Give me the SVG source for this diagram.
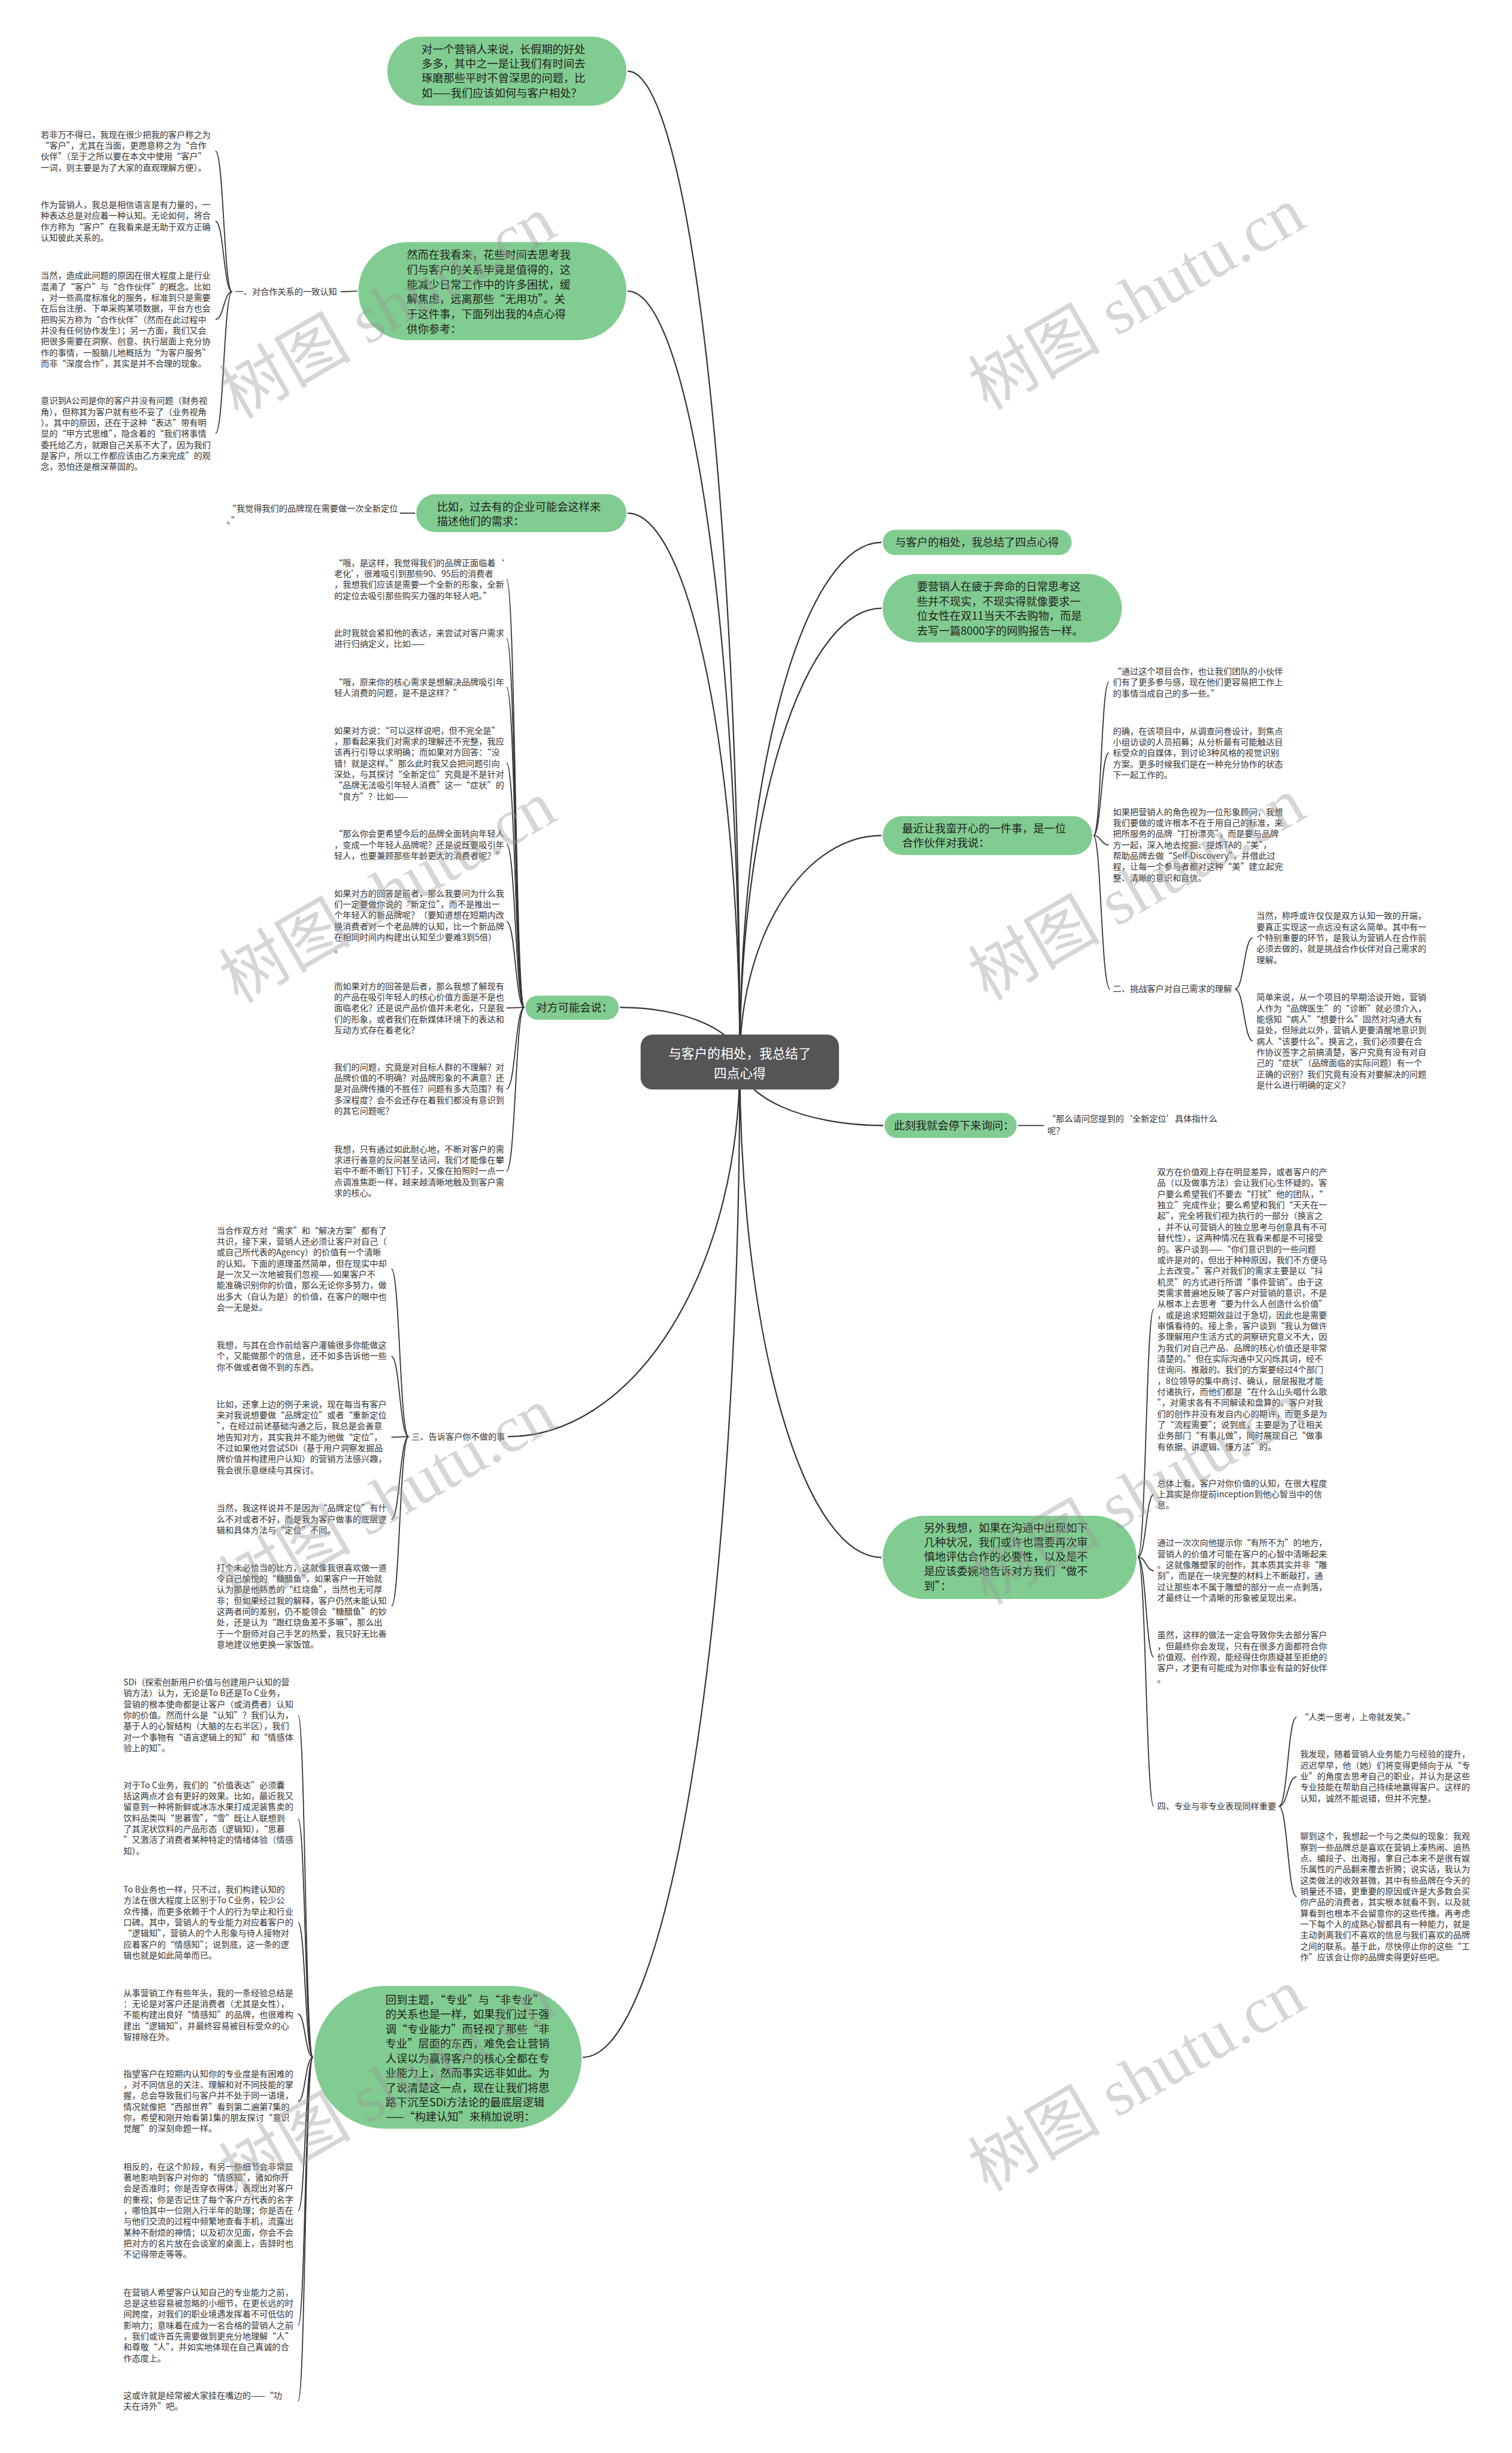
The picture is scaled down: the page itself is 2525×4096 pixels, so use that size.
<svg xmlns="http://www.w3.org/2000/svg" width="2525" height="4096" viewBox="0 0 2525 4096">
<style>
text{font-family:"Noto Sans CJK SC","Liberation Sans",sans-serif;}
.t{font-size:14.4px;fill:#333;}
.n{font-size:18.5px;fill:#222;}
.c{font-size:22px;fill:#fff;}
.pill{fill:#81cc90;}
.ln{fill:none;stroke:#333;stroke-width:2.2;}
.sl{fill:none;stroke:#333;stroke-width:1.8;}
.wm{font-family:"Liberation Serif","Noto Sans CJK SC",serif;font-size:112px;fill:#999;fill-opacity:0.4;}
</style>
<rect width="2525" height="4096" fill="#fff"/>
<g transform="scale(0.986)">
<g id="connectors">
<path class="ln" d="M1253,1798 A190,1677.5 0 0 0 1063,120.5"/>
<path class="ln" d="M1253,1798 A190,1305 0 0 0 1063,493"/>
<path class="ln" d="M1253,1798 A190,929 0 0 0 1063,869"/>
<path class="ln" d="M1253,1798 A203,92 0 0 0 1050,1706"/>
<path class="ln" d="M1253,1798 A393,635 0 0 1 860,2433"/>
<path class="ln" d="M1253,1798 A266,1686 0 0 1 987,3484"/>
<path class="ln" d="M1253,1798 A240,879.5 0 0 1 1493,918.5"/>
<path class="ln" d="M1253,1798 A240,768 0 0 1 1493,1030"/>
<path class="ln" d="M1253,1798 A240,383 0 0 1 1493,1415"/>
<path class="ln" d="M1253,1798 A243,108 0 0 0 1496,1906"/>
<path class="ln" d="M1253,1798 A240,839.5 0 0 0 1493,2637.5"/>
<!-- L2 to label -->
<path class="sl" d="M605,493 L577,494"/>
<!-- 一 bracket -->
<path class="sl" d="M393,494 C379,494 379,256 365,256"/>
<path class="sl" d="M393,494 C379,494 379,375 365,375"/>
<path class="sl" d="M393,494 C379,494 379,541 365,541"/>
<path class="sl" d="M393,494 C379,494 379,734 365,734"/>
<!-- L3 child -->
<path class="sl" d="M703,869 L677,869"/>
<!-- L4 bracket -->
<path class="sl" d="M888,1706 C873,1706 873,981 858,981"/>
<path class="sl" d="M888,1706 C873,1706 873,1081 858,1081"/>
<path class="sl" d="M888,1706 C873,1706 873,1164 858,1164"/>
<path class="sl" d="M888,1706 C873,1706 873,1292 858,1292"/>
<path class="sl" d="M888,1706 C873,1706 873,1430 858,1430"/>
<path class="sl" d="M888,1706 C873,1706 873,1561 858,1561"/>
<path class="sl" d="M888,1706 C873,1706 873,1707 858,1707"/>
<path class="sl" d="M888,1706 C873,1706 873,1844 858,1844"/>
<path class="sl" d="M888,1706 C873,1706 873,1983 858,1983"/>
<!-- L5 bracket -->
<path class="sl" d="M692,2433 C677,2433 677,2149 663,2149"/>
<path class="sl" d="M692,2433 C677,2433 677,2297 663,2297"/>
<path class="sl" d="M692,2433 C677,2433 677,2434 663,2434"/>
<path class="sl" d="M692,2433 C677,2433 677,2573 663,2573"/>
<path class="sl" d="M692,2433 C677,2433 677,2720 663,2720"/>
<!-- L6 bracket -->
<path class="sl" d="M530,3484 C517,3484 517,2905 505,2905"/>
<path class="sl" d="M530,3484 C517,3484 517,3080 505,3080"/>
<path class="sl" d="M530,3484 C517,3484 517,3256 505,3256"/>
<path class="sl" d="M530,3484 C517,3484 517,3411 505,3411"/>
<path class="sl" d="M530,3484 C517,3484 517,3559 505,3559"/>
<path class="sl" d="M530,3484 C517,3484 517,3744 505,3744"/>
<path class="sl" d="M530,3484 C517,3484 517,3938 505,3938"/>
<path class="sl" d="M530,3484 C517,3484 517,4066 505,4066"/>
<!-- R3 bracket -->
<path class="sl" d="M1852,1415 C1865,1415 1865,1155 1878,1155"/>
<path class="sl" d="M1852,1415 C1865,1415 1865,1275 1878,1275"/>
<path class="sl" d="M1852,1415 C1865,1415 1865,1431 1878,1431"/>
<path class="sl" d="M1852,1415 C1865,1415 1865,1675 1880,1675"/>
<!-- 二 bracket -->
<path class="sl" d="M2092,1675 C2107,1675 2107,1588 2122,1588"/>
<path class="sl" d="M2092,1675 C2107,1675 2107,1763 2122,1763"/>
<!-- R4 child -->
<path class="sl" d="M1724,1906 L1768,1906"/>
<!-- R5 bracket -->
<path class="sl" d="M1927,2637 C1941,2637 1941,2217 1954,2217"/>
<path class="sl" d="M1927,2637 C1941,2637 1941,2531 1954,2531"/>
<path class="sl" d="M1927,2637 C1941,2637 1941,2660 1954,2660"/>
<path class="sl" d="M1927,2637 C1941,2637 1941,2806 1954,2806"/>
<path class="sl" d="M1927,2637 C1941,2637 1941,3059 1954,3059"/>
<!-- 四 bracket -->
<path class="sl" d="M2166,3059 C2181,3059 2181,2908 2196,2908"/>
<path class="sl" d="M2166,3059 C2181,3059 2181,3009 2196,3009"/>
<path class="sl" d="M2166,3059 C2181,3059 2181,3212 2196,3212"/>
</g>

<g id="center">
<rect x="1085" y="1752" width="336" height="93" rx="20" fill="#555"/>
<text class="c" text-anchor="middle"><tspan x="1253" y="1792">与客户的相处，我总结了</tspan><tspan x="1253" y="1826">四点心得</tspan></text>
</g>

<g id="L1">
<rect class="pill" x="656" y="62" width="405" height="117" rx="58.5"/>
<text class="n" y="90.6"><tspan x="714">对一个营销人来说，长假期的好处</tspan><tspan x="714" dy="24.4">多多，其中之一是让我们有时间去</tspan><tspan x="714" dy="24.4">琢磨那些平时不曾深思的问题，比</tspan><tspan x="714" dy="24.4">如——我们应该如何与客户相处？</tspan></text>
</g>

<g id="L2">
<rect class="pill" x="607" y="410" width="454" height="166" rx="83"/>
<text class="n" y="438.6"><tspan x="689">然而在我看来，花些时间去思考我</tspan><tspan x="689" dy="25">们与客户的关系毕竟是值得的，这</tspan><tspan x="689" dy="25">能减少日常工作中的许多困扰，缓</tspan><tspan x="689" dy="25">解焦虑，远离那些“无用功”。关</tspan><tspan x="689" dy="25">于这件事，下面列出我的4点心得</tspan><tspan x="689" dy="25">供你参考：</tspan></text>
</g>

<g id="L2-label">
<text class="t" x="398" y="499">一、对合作关系的一致认知</text>
</g>

<g id="L2-b1">
<text class="t" y="233"><tspan x="69">若非万不得已，我现在很少把我的客户称之为</tspan><tspan x="69" dy="18.6">“客户”，尤其在当面，更愿意称之为“合作</tspan><tspan x="69" dy="18.6">伙伴”（至于之所以要在本文中使用“客户”</tspan><tspan x="69" dy="18.6">一词，则主要是为了大家的直观理解方便）。</tspan></text>
</g>
<g id="L2-b2">
<text class="t" y="352"><tspan x="69">作为营销人，我总是相信语言是有力量的，一</tspan><tspan x="69" dy="18.6">种表达总是对应着一种认知。无论如何，将合</tspan><tspan x="69" dy="18.6">作方称为“客户”在我看来是无助于双方正确</tspan><tspan x="69" dy="18.6">认知彼此关系的。</tspan></text>
</g>
<g id="L2-b3">
<text class="t" y="472"><tspan x="69">当然，造成此问题的原因在很大程度上是行业</tspan><tspan x="69" dy="18.6">混淆了“客户”与“合作伙伴”的概念。比如</tspan><tspan x="69" dy="18.6">，对一些高度标准化的服务，标准到只是需要</tspan><tspan x="69" dy="18.6">在后台注册、下单采购某项数据，平台方也会</tspan><tspan x="69" dy="18.6">把购买方称为“合作伙伴”（然而在此过程中</tspan><tspan x="69" dy="18.6">并没有任何协作发生）；另一方面，我们又会</tspan><tspan x="69" dy="18.6">把很多需要在洞察、创意、执行层面上充分协</tspan><tspan x="69" dy="18.6">作的事情，一股脑儿地概括为“为客户服务”</tspan><tspan x="69" dy="18.6">而非“深度合作”，其实是并不合理的现象。</tspan></text>
</g>
<g id="L2-b4">
<text class="t" y="684"><tspan x="69">意识到A公司是你的客户并没有问题（财务视</tspan><tspan x="69" dy="18.6">角），但称其为客户就有些不妥了（业务视角</tspan><tspan x="69" dy="18.6">）。其中的原因，还在于这种“表达”带有明</tspan><tspan x="69" dy="18.6">显的“甲方式思维”，隐含着的“我们将事情</tspan><tspan x="69" dy="18.6">委托给乙方，就跟自己关系不大了，因为我们</tspan><tspan x="69" dy="18.6">是客户，所以工作都应该由乙方来完成”的观</tspan><tspan x="69" dy="18.6">念，恐怕还是根深蒂固的。</tspan></text>
</g>

<g id="L3">
<rect class="pill" x="705" y="837" width="356" height="64" rx="32"/>
<text class="n" y="865.6"><tspan x="740">比如，过去有的企业可能会这样来</tspan><tspan x="740" dy="24">描述他们的需求：</tspan></text>
</g>
<g id="L3-c">
<text class="t" y="866"><tspan x="386">“我觉得我们的品牌现在需要做一次全新定位</tspan><tspan x="384" dy="20">。”</tspan></text>
</g>

<g id="L4">
<rect class="pill" x="890" y="1686" width="158" height="41" rx="20.5"/>
<text class="n" x="908" y="1712.6">对方可能会说：</text>
</g>
<g id="L4-b1"><text class="t" y="958"><tspan x="566">“哦，是这样，我觉得我们的品牌正面临着‘</tspan><tspan x="566" dy="18.6">老化’，很难吸引到那些90、95后的消费者</tspan><tspan x="566" dy="18.6">，我想我们应该是需要一个全新的形象，全新</tspan><tspan x="566" dy="18.6">的定位去吸引那些购买力强的年轻人吧。”</tspan></text></g>
<g id="L4-b2"><text class="t" y="1077"><tspan x="566">此时我就会紧扣他的表达，来尝试对客户需求</tspan><tspan x="566" dy="18.6">进行归纳定义，比如——</tspan></text></g>
<g id="L4-b3"><text class="t" y="1160"><tspan x="566">“哦，原来你的核心需求是想解决品牌吸引年</tspan><tspan x="566" dy="18.6">轻人消费的问题，是不是这样？”</tspan></text></g>
<g id="L4-b4"><text class="t" y="1242"><tspan x="566">如果对方说：“可以这样说吧，但不完全是”</tspan><tspan x="566" dy="18.6">，那看起来我们对需求的理解还不完整，我应</tspan><tspan x="566" dy="18.6">该再行引导以求明确；而如果对方回答：“没</tspan><tspan x="566" dy="18.6">错！就是这样。”那么此时我又会把问题引向</tspan><tspan x="566" dy="18.6">深处，与其探讨“全新定位”究竟是不是针对</tspan><tspan x="566" dy="18.6">“品牌无法吸引年轻人消费”这一“症状”的</tspan><tspan x="566" dy="18.6">“良方”？比如——</tspan></text></g>
<g id="L4-b5"><text class="t" y="1417"><tspan x="566">“那么你会更希望今后的品牌全面转向年轻人</tspan><tspan x="566" dy="18.6">，变成一个年轻人品牌呢？还是说既要吸引年</tspan><tspan x="566" dy="18.6">轻人，也要兼顾那些年龄更大的消费者呢？”</tspan></text></g>
<g id="L4-b6"><text class="t" y="1518"><tspan x="566">如果对方的回答是前者，那么我要问为什么我</tspan><tspan x="566" dy="18.6">们一定要做你说的“新定位”，而不是推出一</tspan><tspan x="566" dy="18.6">个年轻人的新品牌呢？（要知道想在短期内改</tspan><tspan x="566" dy="18.6">换消费者对一个老品牌的认知，比一个新品牌</tspan><tspan x="566" dy="18.6">在相同时间内构建出认知至少要难3到5倍）</tspan><tspan x="566" dy="20">。</tspan></text></g>
<g id="L4-b7"><text class="t" y="1675"><tspan x="566">而如果对方的回答是后者，那么我想了解现有</tspan><tspan x="566" dy="18.6">的产品在吸引年轻人的核心价值方面是不是也</tspan><tspan x="566" dy="18.6">面临老化？还是说产品价值并未老化，只是我</tspan><tspan x="566" dy="18.6">们的形象，或者我们在新媒体环境下的表达和</tspan><tspan x="566" dy="18.6">互动方式存在着老化？</tspan></text></g>
<g id="L4-b8"><text class="t" y="1812"><tspan x="566">我们的问题，究竟是对目标人群的不理解？对</tspan><tspan x="566" dy="18.6">品牌价值的不明确？对品牌形象的不满意？还</tspan><tspan x="566" dy="18.6">是对品牌传播的不胜任？问题有多大范围？有</tspan><tspan x="566" dy="18.6">多深程度？会不会还存在着我们都没有意识到</tspan><tspan x="566" dy="18.6">的其它问题呢？</tspan></text></g>
<g id="L4-b9"><text class="t" y="1951"><tspan x="566">我想，只有通过如此耐心地，不断对客户的需</tspan><tspan x="566" dy="18.6">求进行善意的反问甚至诘问，我们才能像在攀</tspan><tspan x="566" dy="18.6">岩中不断不断钉下钉子，又像在拍照时一点一</tspan><tspan x="566" dy="18.6">点调准焦距一样，越来越清晰地触及到客户需</tspan><tspan x="566" dy="18.6">求的核心。</tspan></text></g>

<g id="L5">
<text class="t" x="697" y="2438">三、告诉客户你不做的事</text>
</g>
<g id="L5-b1"><text class="t" y="2089"><tspan x="367">当合作双方对“需求”和“解决方案”都有了</tspan><tspan x="367" dy="18.6">共识，接下来，营销人还必须让客户对自己（</tspan><tspan x="367" dy="18.6">或自己所代表的Agency）的价值有一个清晰</tspan><tspan x="367" dy="18.6">的认知。下面的道理虽然简单，但在现实中却</tspan><tspan x="367" dy="18.6">是一次又一次地被我们忽视——如果客户不</tspan><tspan x="367" dy="18.6">能准确识别你的价值，那么无论你多努力，做</tspan><tspan x="367" dy="18.6">出多大（自认为是）的价值，在客户的眼中也</tspan><tspan x="367" dy="18.6">会一无是处。</tspan></text></g>
<g id="L5-b2"><text class="t" y="2283"><tspan x="367">我想，与其在合作前给客户灌输很多你能做这</tspan><tspan x="367" dy="18.6">个，又能做那个的信息，还不如多告诉他一些</tspan><tspan x="367" dy="18.6">你不做或者做不到的东西。</tspan></text></g>
<g id="L5-b3"><text class="t" y="2383"><tspan x="367">比如，还拿上边的例子来说，现在每当有客户</tspan><tspan x="367" dy="18.6">来对我说想要做“品牌定位”或者“重新定位</tspan><tspan x="367" dy="18.6">”，在经过前述基础沟通之后，我总是会善意</tspan><tspan x="367" dy="18.6">地告知对方，其实我并不能为他做“定位”，</tspan><tspan x="367" dy="18.6">不过如果他对尝试SDi（基于用户洞察发掘品</tspan><tspan x="367" dy="18.6">牌价值并构建用户认知）的营销方法感兴趣，</tspan><tspan x="367" dy="18.6">我会很乐意继续与其探讨。</tspan></text></g>
<g id="L5-b4"><text class="t" y="2559"><tspan x="367">当然，我这样说并不是因为“品牌定位”有什</tspan><tspan x="367" dy="18.6">么不对或者不好，而是我为客户做事的底层逻</tspan><tspan x="367" dy="18.6">辑和具体方法与“定位”不同。</tspan></text></g>
<g id="L5-b5"><text class="t" y="2660"><tspan x="367">打个未必恰当的比方，这就像我很喜欢做一道</tspan><tspan x="367" dy="18.6">令自己愉悦的“糖醋鱼”，如果客户一开始就</tspan><tspan x="367" dy="18.6">认为那是他熟悉的“红烧鱼”，当然也无可厚</tspan><tspan x="367" dy="18.6">非；但如果经过我的解释，客户仍然未能认知</tspan><tspan x="367" dy="18.6">这两者间的差别，仍不能领会“糖醋鱼”的妙</tspan><tspan x="367" dy="18.6">处，还是认为“跟红烧鱼差不多嘛”，那么出</tspan><tspan x="367" dy="18.6">于一个厨师对自己手艺的热爱，我只好无比善</tspan><tspan x="367" dy="18.6">意地建议他更换一家饭馆。</tspan></text></g>

<g id="L6">
<rect class="pill" x="532" y="3363" width="453" height="242" rx="121"/>
<text class="n" y="3393.6"><tspan x="653">回到主题，“专业”与“非专业”</tspan><tspan x="653" dy="24.75">的关系也是一样，如果我们过于强</tspan><tspan x="653" dy="24.75">调“专业能力”而轻视了那些“非</tspan><tspan x="653" dy="24.75">专业”层面的东西，难免会让营销</tspan><tspan x="653" dy="24.75">人误以为赢得客户的核心全都在专</tspan><tspan x="653" dy="24.75">业能力上，然而事实远非如此。为</tspan><tspan x="653" dy="24.75">了说清楚这一点，现在让我们将思</tspan><tspan x="653" dy="24.75">路下沉至SDi方法论的最底层逻辑</tspan><tspan x="653" dy="24.75">——“构建认知”来稍加说明：</tspan></text>
</g>
<g id="L6-b1"><text class="t" y="2854"><tspan x="209">SDi（探索创新用户价值与创建用户认知的营</tspan><tspan x="209" dy="18.6">销方法）认为，无论是To B还是To C业务，</tspan><tspan x="209" dy="18.6">营销的根本使命都是让客户（或消费者）认知</tspan><tspan x="209" dy="18.6">你的价值。然而什么是“认知”？我们认为，</tspan><tspan x="209" dy="18.6">基于人的心智结构（大脑的左右半区），我们</tspan><tspan x="209" dy="18.6">对一个事物有“语言逻辑上的知”和“情感体</tspan><tspan x="209" dy="18.6">验上的知”。</tspan></text></g>
<g id="L6-b2"><text class="t" y="3028"><tspan x="209">对于To C业务，我们的“价值表达”必须囊</tspan><tspan x="209" dy="18.6">括这两点才会有更好的效果。比如，最近我又</tspan><tspan x="209" dy="18.6">留意到一种将新鲜或冰冻水果打成泥装售卖的</tspan><tspan x="209" dy="18.6">饮料品类叫“思慕雪”，“雪”既让人联想到</tspan><tspan x="209" dy="18.6">了其泥状饮料的产品形态（逻辑知），“思慕</tspan><tspan x="209" dy="18.6">”又激活了消费者某种特定的情绪体验（情感</tspan><tspan x="209" dy="18.6">知）。</tspan></text></g>
<g id="L6-b3"><text class="t" y="3205"><tspan x="209">To B业务也一样，只不过，我们构建认知的</tspan><tspan x="209" dy="18.6">方法在很大程度上区别于To C业务，较少公</tspan><tspan x="209" dy="18.6">众传播，而更多依赖于个人的行为举止和行业</tspan><tspan x="209" dy="18.6">口碑。其中，营销人的专业能力对应着客户的</tspan><tspan x="209" dy="18.6">“逻辑知”，营销人的个人形象与待人接物对</tspan><tspan x="209" dy="18.6">应着客户的“情感知”；说到底，这一条的逻</tspan><tspan x="209" dy="18.6">辑也就是如此简单而已。</tspan></text></g>
<g id="L6-b4"><text class="t" y="3380"><tspan x="209">从事营销工作有些年头，我的一条经验总结是</tspan><tspan x="209" dy="18.6">：无论是对客户还是消费者（尤其是女性），</tspan><tspan x="209" dy="18.6">不能构建出良好“情感知”的品牌，也很难构</tspan><tspan x="209" dy="18.6">建出“逻辑知”，并最终容易被目标受众的心</tspan><tspan x="209" dy="18.6">智排除在外。</tspan></text></g>
<g id="L6-b5"><text class="t" y="3517"><tspan x="209">指望客户在短期内认知你的专业度是有困难的</tspan><tspan x="209" dy="18.6">，对不同信息的关注、理解和对不同技能的掌</tspan><tspan x="209" dy="18.6">握，总会导致我们与客户并不处于同一语境，</tspan><tspan x="209" dy="18.6">情况就像把“西部世界”看到第二遍第7集的</tspan><tspan x="209" dy="18.6">你，希望和刚开始看第1集的朋友探讨“意识</tspan><tspan x="209" dy="18.6">觉醒”的深刻命题一样。</tspan></text></g>
<g id="L6-b6"><text class="t" y="3674"><tspan x="209">相反的，在这个阶段，有另一些细节会非常显</tspan><tspan x="209" dy="18.6">著地影响到客户对你的“情感知”，诸如你开</tspan><tspan x="209" dy="18.6">会是否准时；你是否穿衣得体，表现出对客户</tspan><tspan x="209" dy="18.6">的重视；你是否记住了每个客户方代表的名字</tspan><tspan x="209" dy="18.6">，哪怕其中一位刚入行半年的助理；你是否在</tspan><tspan x="209" dy="18.6">与他们交流的过程中频繁地查看手机，流露出</tspan><tspan x="209" dy="18.6">某种不耐烦的神情；以及初次见面，你会不会</tspan><tspan x="209" dy="18.6">把对方的名片放在会谈室的桌面上，告辞时也</tspan><tspan x="209" dy="18.6">不记得带走等等。</tspan></text></g>
<g id="L6-b7"><text class="t" y="3887"><tspan x="209">在营销人希望客户认知自己的专业能力之前，</tspan><tspan x="209" dy="18.6">总是这些容易被忽略的小细节，在更长远的时</tspan><tspan x="209" dy="18.6">间跨度，对我们的职业境遇发挥着不可低估的</tspan><tspan x="209" dy="18.6">影响力；意味着在成为一名合格的营销人之前</tspan><tspan x="209" dy="18.6">，我们或许首先需要做到更充分地理解“人”</tspan><tspan x="209" dy="18.6">和尊敬“人”，并如实地体现在自己真诚的合</tspan><tspan x="209" dy="18.6">作态度上。</tspan></text></g>
<g id="L6-b8"><text class="t" y="4062"><tspan x="209">这或许就是经常被大家挂在嘴边的——“功</tspan><tspan x="209" dy="18.6">夫在诗外”吧。</tspan></text></g>

<g id="R1">
<rect class="pill" x="1495" y="897" width="320" height="43" rx="21.5"/>
<text class="n" x="1516" y="925">与客户的相处，我总结了四点心得</text>
</g>
<g id="R2">
<rect class="pill" x="1495" y="972" width="405" height="116" rx="58"/>
<text class="n" y="1000"><tspan x="1553">要营销人在疲于奔命的日常思考这</tspan><tspan x="1553" dy="25">些并不现实，不现实得就像要求一</tspan><tspan x="1553" dy="25">位女性在双11当天不去购物，而是</tspan><tspan x="1553" dy="25">去写一篇8000字的网购报告一样。</tspan></text>
</g>
<g id="R3">
<rect class="pill" x="1495" y="1382" width="355" height="66" rx="33"/>
<text class="n" y="1409.6"><tspan x="1528">最近让我蛮开心的一件事，是一位</tspan><tspan x="1528" dy="24">合作伙伴对我说：</tspan></text>
</g>
<g id="R3-c1"><text class="t" y="1142"><tspan x="1885">“通过这个项目合作，也让我们团队的小伙伴</tspan><tspan x="1885" dy="18.6">们有了更多参与感，现在他们更容易把工作上</tspan><tspan x="1885" dy="18.6">的事情当成自己的多一些。”</tspan></text></g>
<g id="R3-c2"><text class="t" y="1243"><tspan x="1885">的确，在该项目中，从调查问卷设计，到焦点</tspan><tspan x="1885" dy="18.6">小组访谈的人员招募；从分析最有可能触达目</tspan><tspan x="1885" dy="18.6">标受众的自媒体，到讨论3种风格的视觉识别</tspan><tspan x="1885" dy="18.6">方案。更多时候我们是在一种充分协作的状态</tspan><tspan x="1885" dy="18.6">下一起工作的。</tspan></text></g>
<g id="R3-c3"><text class="t" y="1380"><tspan x="1885">如果把营销人的角色视为一位形象顾问，我想</tspan><tspan x="1885" dy="18.6">我们要做的或许根本不在于用自己的标准，来</tspan><tspan x="1885" dy="18.6">把所服务的品牌“打扮漂亮”，而是要与品牌</tspan><tspan x="1885" dy="18.6">方一起，深入地去挖掘、提炼TA的“美”，</tspan><tspan x="1885" dy="18.6">帮助品牌去做“Self-Discovery”，并借此过</tspan><tspan x="1885" dy="18.6">程，让每一个参与者都对这种“美”建立起完</tspan><tspan x="1885" dy="18.6">整、清晰的意识和自信。</tspan></text></g>
<g id="R3-label"><text class="t" x="1885" y="1680">二、挑战客户对自己需求的理解</text></g>
<g id="R3-d1"><text class="t" y="1556"><tspan x="2128">当然，称呼或许仅仅是双方认知一致的开端，</tspan><tspan x="2128" dy="18.6">要真正实现这一点远没有这么简单。其中有一</tspan><tspan x="2128" dy="18.6">个特别重要的环节，是我认为营销人在合作前</tspan><tspan x="2128" dy="18.6">必须去做的，就是挑战合作伙伴对自己需求的</tspan><tspan x="2128" dy="18.6">理解。</tspan></text></g>
<g id="R3-d2"><text class="t" y="1694"><tspan x="2128">简单来说，从一个项目的早期洽谈开始，营销</tspan><tspan x="2128" dy="18.6">人作为“品牌医生”的“诊断”就必须介入，</tspan><tspan x="2128" dy="18.6">能感知“病人”“想要什么”固然对沟通大有</tspan><tspan x="2128" dy="18.6">益处，但除此以外，营销人更要清醒地意识到</tspan><tspan x="2128" dy="18.6">病人“该要什么”。换言之，我们必须要在合</tspan><tspan x="2128" dy="18.6">作协议签字之前搞清楚，客户究竟有没有对自</tspan><tspan x="2128" dy="18.6">己的“症状”（品牌面临的实际问题）有一个</tspan><tspan x="2128" dy="18.6">正确的识别？我们究竟有没有对要解决的问题</tspan><tspan x="2128" dy="18.6">是什么进行明确的定义？</tspan></text></g>

<g id="R4">
<rect class="pill" x="1498" y="1885" width="224" height="42" rx="21"/>
<text class="n" x="1514" y="1912.6">此刻我就会停下来询问：</text>
</g>
<g id="R4-c"><text class="t" y="1900"><tspan x="1774">“那么请问您提到的‘全新定位’具体指什么</tspan><tspan x="1774" dy="20">呢？</tspan></text></g>

<g id="R5">
<rect class="pill" x="1495" y="2567" width="430" height="141" rx="70.5"/>
<text class="n" y="2594"><tspan x="1565">另外我想，如果在沟通中出现如下</tspan><tspan x="1565" dy="24.6">几种状况，我们或许也需要再次审</tspan><tspan x="1565" dy="24.6">慎地评估合作的必要性，以及是不</tspan><tspan x="1565" dy="24.6">是应该委婉地告诉对方我们“做不</tspan><tspan x="1565" dy="24.6">到”：</tspan></text>
</g>
<g id="R5-e1"><text class="t" y="1990"><tspan x="1960">双方在价值观上存在明显差异，或者客户的产</tspan><tspan x="1960" dy="18.6">品（以及做事方法）会让我们心生怀疑的。客</tspan><tspan x="1960" dy="18.6">户要么希望我们不要去“打扰”他的团队，“</tspan><tspan x="1960" dy="18.6">独立”完成作业；要么希望和我们“天天在一</tspan><tspan x="1960" dy="18.6">起”，完全将我们视为执行的一部分（换言之</tspan><tspan x="1960" dy="18.6">，并不认可营销人的独立思考与创意具有不可</tspan><tspan x="1960" dy="18.6">替代性），这两种情况在我看来都是不可接受</tspan><tspan x="1960" dy="18.6">的。客户谈到——“你们意识到的一些问题</tspan><tspan x="1960" dy="18.6">或许是对的，但出于种种原因，我们不方便马</tspan><tspan x="1960" dy="18.6">上去改变。”客户对我们的需求主要是以“抖</tspan><tspan x="1960" dy="18.6">机灵”的方式进行所谓“事件营销”。由于这</tspan><tspan x="1960" dy="18.6">类需求普遍地反映了客户对营销的意识，不是</tspan><tspan x="1960" dy="18.6">从根本上去思考“要为什么人创造什么价值”</tspan><tspan x="1960" dy="18.6">，或是追求短期效益过于急切，因此也是需要</tspan><tspan x="1960" dy="18.6">审慎看待的。接上条，客户谈到“我认为做许</tspan><tspan x="1960" dy="18.6">多理解用户生活方式的洞察研究意义不大，因</tspan><tspan x="1960" dy="18.6">为我们对自己产品、品牌的核心价值还是非常</tspan><tspan x="1960" dy="18.6">清楚的。”但在实际沟通中又闪烁其词，经不</tspan><tspan x="1960" dy="18.6">住询问、推敲的。我们的方案要经过4个部门</tspan><tspan x="1960" dy="18.6">，8位领导的集中商讨、确认，层层报批才能</tspan><tspan x="1960" dy="18.6">付诸执行，而他们都是“在什么山头唱什么歌</tspan><tspan x="1960" dy="18.6">”，对需求各有不同解读和盘算的。客户对我</tspan><tspan x="1960" dy="18.6">们的创作并没有发自内心的期许，而更多是为</tspan><tspan x="1960" dy="18.6">了“流程需要”；说到底，主要是为了让相关</tspan><tspan x="1960" dy="18.6">业务部门“有事儿做”，同时展现自己“做事</tspan><tspan x="1960" dy="18.6">有依据、讲逻辑、懂方法”的。</tspan></text></g>
<g id="R5-e2"><text class="t" y="2517"><tspan x="1960">总体上看，客户对你价值的认知，在很大程度</tspan><tspan x="1960" dy="18.6">上其实是你提前inception到他心智当中的信</tspan><tspan x="1960" dy="18.6">息。</tspan></text></g>
<g id="R5-e3"><text class="t" y="2618"><tspan x="1960">通过一次次向他提示你“有所不为”的地方，</tspan><tspan x="1960" dy="18.6">营销人的价值才可能在客户的心智中清晰起来</tspan><tspan x="1960" dy="18.6">。这就像雕塑家的创作，其本质其实并非“雕</tspan><tspan x="1960" dy="18.6">刻”，而是在一块完整的材料上不断敲打，通</tspan><tspan x="1960" dy="18.6">过让那些本不属于雕塑的部分一点一点剥落，</tspan><tspan x="1960" dy="18.6">才最终让一个清晰的形象被呈现出来。</tspan></text></g>
<g id="R5-e4"><text class="t" y="2774"><tspan x="1960">虽然，这样的做法一定会导致你失去部分客户</tspan><tspan x="1960" dy="18.6">，但最终你会发现，只有在很多方面都符合你</tspan><tspan x="1960" dy="18.6">价值观、创作观，能经得住你质疑甚至拒绝的</tspan><tspan x="1960" dy="18.6">客户，才更有可能成为对你事业有益的好伙伴</tspan><tspan x="1960" dy="18.6">。</tspan></text></g>
<g id="R5-label"><text class="t" x="1960" y="3064">四、专业与非专业表现同样重要</text></g>
<g id="R5-f1"><text class="t" x="2202" y="2913">“人类一思考，上帝就发笑。”</text></g>
<g id="R5-f2"><text class="t" y="2976"><tspan x="2202">我发现，随着营销人业务能力与经验的提升，</tspan><tspan x="2202" dy="18.6">迟迟早早，他（她）们将变得更倾向于从“专</tspan><tspan x="2202" dy="18.6">业”的角度去思考自己的职业，并认为是这些</tspan><tspan x="2202" dy="18.6">专业技能在帮助自己持续地赢得客户。这样的</tspan><tspan x="2202" dy="18.6">认知，诚然不能说错，但并不完整。</tspan></text></g>
<g id="R5-f3"><text class="t" y="3115"><tspan x="2202">聊到这个，我想起一个与之类似的现象：我观</tspan><tspan x="2202" dy="18.6">察到一些品牌总是喜欢在营销上凑热闹、追热</tspan><tspan x="2202" dy="18.6">点、编段子、出海报，拿自己本来不是很有娱</tspan><tspan x="2202" dy="18.6">乐属性的产品翻来覆去折腾；说实话，我认为</tspan><tspan x="2202" dy="18.6">这类做法的收效甚微，其中有些品牌在今天的</tspan><tspan x="2202" dy="18.6">销量还不错，更重要的原因或许是大多数会买</tspan><tspan x="2202" dy="18.6">你产品的消费者，其实根本就看不到，以及就</tspan><tspan x="2202" dy="18.6">算看到也根本不会留意你的这些传播。再考虑</tspan><tspan x="2202" dy="18.6">一下每个人的成熟心智都具有一种能力，就是</tspan><tspan x="2202" dy="18.6">主动剥离我们不喜欢的信息与我们喜欢的品牌</tspan><tspan x="2202" dy="18.6">之间的联系。基于此，尽快停止你的这些“工</tspan><tspan x="2202" dy="18.6">作”应该会让你的品牌卖得更好些吧。</tspan></text></g>

<g id="watermarks">
<text class="wm" text-anchor="middle" transform="translate(656,520) rotate(-30)" y="39">树图 shutu.cn</text>
<text class="wm" text-anchor="middle" transform="translate(1925,505) rotate(-30)" y="39">树图 shutu.cn</text>
<text class="wm" text-anchor="middle" transform="translate(656,1510) rotate(-30)" y="39">树图 shutu.cn</text>
<text class="wm" text-anchor="middle" transform="translate(1925,1505) rotate(-30)" y="39">树图 shutu.cn</text>
<text class="wm" text-anchor="middle" transform="translate(656,2538) rotate(-30)" y="39">树图 shutu.cn</text>
<text class="wm" text-anchor="middle" transform="translate(1925,2528) rotate(-30)" y="39">树图 shutu.cn</text>
<text class="wm" text-anchor="middle" transform="translate(656,3532) rotate(-30)" y="39">树图 shutu.cn</text>
<text class="wm" text-anchor="middle" transform="translate(1925,3522) rotate(-30)" y="39">树图 shutu.cn</text>
</g>
</g>
</svg>
